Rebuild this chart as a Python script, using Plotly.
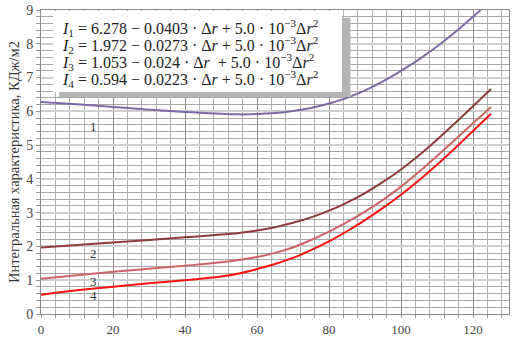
import plotly.graph_objects as go

# Data
dr = [0, 10, 20, 30, 40, 50, 55, 60, 65, 70, 75, 80, 85, 90, 95, 100, 105, 110, 115, 120, 125]
I1 = [6.28, 6.21, 6.13, 6.05, 5.98, 5.93, 5.91, 5.92, 5.95, 6.01, 6.10, 6.23, 6.40, 6.62, 6.89, 7.20, 7.54, 7.92, 8.34, 8.80, 9.28]
I2 = [1.97, 2.04, 2.12, 2.19, 2.27, 2.35, 2.40, 2.47, 2.57, 2.70, 2.86, 3.06, 3.30, 3.58, 3.91, 4.28, 4.70, 5.16, 5.65, 6.15, 6.66]
I3 = [1.04, 1.15, 1.25, 1.34, 1.43, 1.53, 1.60, 1.69, 1.81, 1.97, 2.19, 2.44, 2.72, 3.03, 3.38, 3.77, 4.21, 4.68, 5.16, 5.65, 6.13]
I4 = [0.57, 0.70, 0.81, 0.91, 1.00, 1.11, 1.20, 1.33, 1.48, 1.66, 1.89, 2.15, 2.45, 2.78, 3.14, 3.53, 3.96, 4.42, 4.91, 5.42, 5.93]

series = [I1, I2, I3, I4]
colors = ["#7d6aa6", "#8e3b3b", "#cc6666", "#ff1010"]
curve_labels = ["1", "2", "3", "4"]
label_x = [14.5, 14.5, 14.5, 14.5]
label_y = [5.56, 1.80, 0.95, 0.56]

formulas = [
    "<i>I</i><sub>1</sub> = 6.278 − 0.0403 · Δ<i>r</i> + 5.0 · 10<sup>−3</sup>Δ<i>r</i><sup>2</sup>",
    "<i>I</i><sub>2</sub> = 1.972 − 0.0273 · Δ<i>r</i> + 5.0 · 10<sup>−3</sup>Δ<i>r</i><sup>2</sup>",
    "<i>I</i><sub>3</sub> = 1.053 − 0.024 · Δ<i>r</i>  + 5.0 · 10<sup>−3</sup>Δ<i>r</i><sup>2</sup>",
    "<i>I</i><sub>4</sub> = 0.594 − 0.0223 · Δ<i>r</i> + 5.0 · 10<sup>−3</sup>Δ<i>r</i><sup>2</sup>",
]
formula_y = [0.941, 0.885, 0.829, 0.772]

x_ticks = [0, 20, 40, 60, 80, 100, 120]
y_ticks = [0, 1, 2, 3, 4, 5, 6, 7, 8, 9]
y_title = "Интегральная характеристика, КДж/м2"

SERIF = "Liberation Serif"

fig = go.Figure()
for ys, c in zip(series, colors):
    fig.add_trace(go.Scatter(x=dr, y=ys, mode="lines", line=dict(color=c, width=2, shape="spline"),
                             showlegend=False, hoverinfo="skip"))

for t, lx, ly in zip(curve_labels, label_x, label_y):
    fig.add_annotation(x=lx, y=ly, text=t, showarrow=False,
                       font=dict(family=SERIF, size=13, color="#333333"))

# formula box with shadow
fig.add_shape(type="rect", xref="paper", yref="paper", x0=0.643, x1=0.661, y0=0.714, y1=0.974,
              fillcolor="#b4b4b4", line=dict(width=0), layer="above")
fig.add_shape(type="rect", xref="paper", yref="paper", x0=0.039, x1=0.661, y0=0.714, y1=0.730,
              fillcolor="#b4b4b4", line=dict(width=0), layer="above")
fig.add_shape(type="rect", xref="paper", yref="paper", x0=0.026, x1=0.643, y0=0.730, y1=0.997,
              fillcolor="white", line=dict(width=0), layer="above")

for f, fy in zip(formulas, formula_y):
    fig.add_annotation(xref="paper", yref="paper", x=0.041, y=fy, xanchor="left", yanchor="middle",
                       text=f, showarrow=False, font=dict(family=SERIF, size=16, color="#222222"))

fig.update_xaxes(range=[0, 130], tickvals=x_ticks, showgrid=True, gridcolor="#8c8c8c", gridwidth=1,
                 minor=dict(dtick=4, tick0=0, showgrid=True, gridcolor="#b0b0b0", gridwidth=1,
                            ticks="outside", ticklen=3, tickcolor="#999999"),
                 ticks="outside", ticklen=3, tickcolor="#999999",
                 tickfont=dict(family=SERIF, size=13, color="#444444"),
                 showline=True, linecolor="#8c8c8c", mirror=True, zeroline=False, automargin=False)
fig.update_yaxes(range=[0, 9], tickvals=y_ticks, showgrid=True, gridcolor="#cfcfcf", gridwidth=2,
                 minor=dict(dtick=0.2, tick0=0, showgrid=True, gridcolor="#a8a8a8", gridwidth=1,
                            ticks="outside", ticklen=4, tickcolor="#999999"),
                 ticks="outside", ticklen=4, tickcolor="#999999",
                 tickfont=dict(family=SERIF, size=14, color="#444444"),
                 title=dict(text=y_title, font=dict(family=SERIF, size=14.5, color="#333333"), standoff=3),
                 showline=True, linecolor="#8c8c8c", mirror=True, zeroline=False, automargin=False)

fig.update_layout(width=525, height=342, margin=dict(l=41, r=16, t=10, b=28),
                  plot_bgcolor="white", paper_bgcolor="white")

fig.write_html("out.html", config={"displayModeBar": False},
               post_script="document.body.style.margin='0px';document.body.style.overflow='hidden';")
